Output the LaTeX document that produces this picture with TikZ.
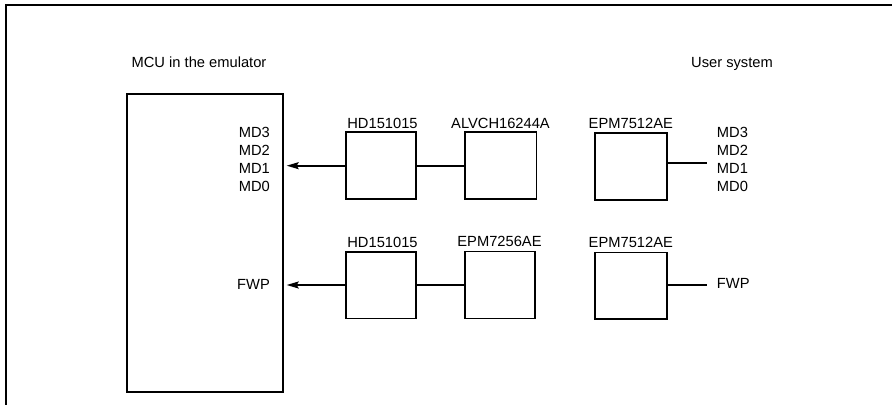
\documentclass[tikz,border=0pt]{standalone}
\usepackage{fontspec}
\setmainfont{Liberation Sans}
\usetikzlibrary{arrows.meta}
\begin{document}
\begin{tikzpicture}[x=1pt,y=-1pt,
  chip/.style={draw,line width=1.6pt,inner sep=0pt,minimum width=70pt,minimum height=67pt},
  lbl/.style={inner sep=0pt,font=\fontsize{14.7}{16}\selectfont},
  wire/.style={line width=1.6pt},
  arr/.style={line width=1.6pt,-{Stealth[length=12pt,width=7pt,inset=2pt]}}]
\useasboundingbox (0,0) rectangle (892,405);
\draw[line width=2.6pt] (892,5) -- (6,5) -- (6,405);
% MCU
\node[chip,minimum width=156pt,minimum height=298pt] (mcu) at (204.7,243) {};
\node[lbl,anchor=base] (mcut) at (199,67) {MCU in the emulator};
\node[lbl,anchor=base] (usert) at (732,67) {User system};
% MD labels on MCU
\node[lbl,anchor=base east] (lmd3) at (270,137.2) {MD3};
\node[lbl,anchor=base east] (lmd2) at (270,155.2) {MD2};
\node[lbl,anchor=base east] (lmd1) at (270,173.2) {MD1};
\node[lbl,anchor=base east] (lmd0) at (270,191.2) {MD0};
\node[lbl,anchor=base east] (lfwp) at (270,289) {FWP};
% top row
\node[chip] (hd1) at (380.7,165.7) {};
\node[lbl,anchor=base] (hd1t) at (382.5,128.5) {HD151015};
\node[chip,minimum width=71.7pt] (alv) at (500.8,165.7) {};
\node[lbl,anchor=base] (alvt) at (500.5,128.5) {ALVCH16244A};
\node[chip,line width=2pt,minimum width=72.3pt,minimum height=66.7pt] (epm1) at (631.2,166.7) {};
\node[lbl,anchor=base] (epm1t) at (630.8,128.5) {EPM7512AE};
\node[lbl,anchor=base west] (rmd3) at (716.7,137.2) {MD3};
\node[lbl,anchor=base west] (rmd2) at (716.7,155.2) {MD2};
\node[lbl,anchor=base west] (rmd1) at (716.7,173.2) {MD1};
\node[lbl,anchor=base west] (rmd0) at (716.7,191.2) {MD0};
% bottom row
\node[chip,minimum height=66.6pt] (hd2) at (380.7,285) {};
\node[lbl,anchor=base] (hd2t) at (382.5,247) {HD151015};
\node[chip] (e256) at (500,285) {};
\node[lbl,anchor=base] (e256t) at (499.5,246) {EPM7256AE};
\node[chip,minimum width=72pt,minimum height=66.7pt] (epm2) at (631,285.7) {};
\node[lbl,anchor=base] (epm2t) at (630.8,247) {EPM7512AE};
\node[lbl,anchor=base west] (rfwp) at (716.7,288.5) {FWP};
% connectors
\coordinate (a1) at (286.7,165.7);
\coordinate (a2) at (286.7,285);
\coordinate (u1) at (706.7,162.7);
\coordinate (u2) at (706.7,285);
\draw[arr] (hd1.west) -- (a1);
\draw[wire] (hd1.east) -- (alv.west);
\draw[wire] (epm1.east |- u1) -- (u1);
\draw[arr] (hd2.west) -- (a2);
\draw[wire] (hd2.east) -- (e256.west);
\draw[wire] (epm2.east |- u2) -- (u2);
\end{tikzpicture}
\end{document}
